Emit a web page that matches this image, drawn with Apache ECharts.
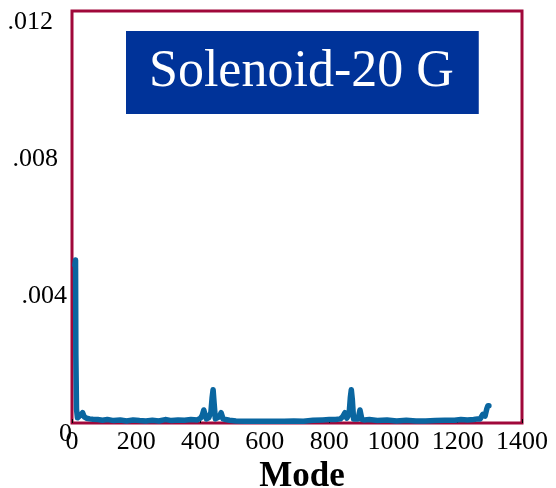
<!DOCTYPE html>
<html>
<head>
<meta charset="utf-8">
<script src="https://cdn.jsdelivr.net/npm/echarts@6/dist/echarts.min.js"></script>
<style>
html,body{margin:0;padding:0;background:#fff;}
#c{width:556px;height:488px;}
</style>
</head>
<body>
<div id="c"></div>
<script>
var titleText = 'Solenoid-20 G';
var xAxisName = 'Mode';
var yTickLabels = ['0', '.004', '.008', '.012'];
var xTicks = [0, 200, 400, 600, 800, 1000, 1200, 1400];

var modes = [9,11,12,14,17,22,28,33,38,45,55,65,80,95,110,130,150,170,190,210,230,250,270,290,310,330,350,370,390,400,405,410,414,418,425,432,436,439,442,446,452,458,464,470,478,490,510,540,570,600,630,660,690,720,750,780,800,820,835,842,849,855,862,866,869,872,876,882,890,896,902,910,925,950,980,1010,1040,1070,1100,1130,1160,1190,1210,1230,1250,1262,1270,1278,1285,1290,1294,1297];
var values = [0.0046,0.00475,0.0020,0.0004,0.00015,0.00014,0.00024,0.0003,0.00018,0.00014,0.00012,0.00011,0.0001,0.00008,0.0001,0.00007,0.00009,0.00006,0.00009,0.00007,0.00006,0.00008,0.00006,0.0001,0.00007,0.00009,0.00008,0.0001,0.00009,0.00014,0.00022,0.00038,0.00024,0.00012,0.00015,0.0003,0.00075,0.00097,0.0006,0.00012,0.00012,0.00018,0.0003,0.00012,0.0001,0.00008,0.00006,0.00005,0.00005,0.00005,0.00005,0.00005,0.00006,0.00005,0.00008,0.00009,0.0001,0.0001,0.00012,0.00018,0.0003,0.00014,0.00025,0.00075,0.00097,0.0007,0.00012,0.00014,0.00012,0.00038,0.0001,0.00009,0.0001,0.00007,0.00009,0.00006,0.00008,0.00006,0.00006,0.00007,0.00008,0.00008,0.0001,0.00009,0.0001,0.00012,0.00012,0.00025,0.0002,0.0004,0.0005,0.0005];

var seriesData = modes.map(function(m, i){ return [m, values[i]]; });

var chart = echarts.init(document.getElementById('c'), null, {renderer:'canvas'});
var serif = '"Liberation Serif", "Times New Roman", serif';
chart.setOption({
  animation: false,
  backgroundColor: '#fff',
  title: {
    text: titleText,
    left: 126, top: 31,
    backgroundColor: '#003399',
    padding: [14, 25, 15, 23],
    textStyle: {color:'#fff', fontSize:52, fontWeight:'normal', fontFamily:serif, lineHeight:54}
  },
  grid: {left:72, right:34, top:11, bottom:65, show:true, borderColor:'#a0083a', borderWidth:3, backgroundColor:'transparent', containLabel:false, outerBoundsMode:'none'},
  xAxis: {
    type:'value', min:0, max:1400, interval:200,
    name: xAxisName, nameLocation:'middle', nameGap:27,
    nameTextStyle:{fontSize:35, fontWeight:'bold', fontFamily:serif, color:'#000', padding:[0,0,0,10]},
    axisLine:{show:false},
    axisTick:{show:true, inside:true, length:4, lineStyle:{color:'#000', width:1}},
    splitLine:{show:false},
    axisLabel:{fontSize:26, fontFamily:serif, color:'#000', margin:6,
      formatter:function(v){ return String(v); }}
  },
  yAxis: {
    type:'value', min:0, max:0.012, interval:0.004,
    axisLine:{show:false}, axisTick:{show:false}, splitLine:{show:false},
    axisLabel:{
      margin:0, verticalAlign:'top', lineHeight:22,
      formatter:function(v){
        var i = Math.round(v/0.004);
        return '{p' + i + '|' + yTickLabels[i] + '}';
      },
      rich:{
        p0:{fontSize:26, fontFamily:serif, color:'#000', padding:[0,0,0,0]},
        p1:{fontSize:26, fontFamily:serif, color:'#000', padding:[0,5,0,0]},
        p2:{fontSize:26, fontFamily:serif, color:'#000', padding:[0,14,0,0]},
        p3:{fontSize:26, fontFamily:serif, color:'#000', padding:[0,19,0,0]}
      }
    }
  },
  series: [{
    type:'line', data: seriesData, showSymbol:false, symbol:'none',
    lineStyle:{color:'#0a66a0', width:5.5, join:'round', cap:'round'},
    clip:false
  }]
});
</script>
</body>
</html>
